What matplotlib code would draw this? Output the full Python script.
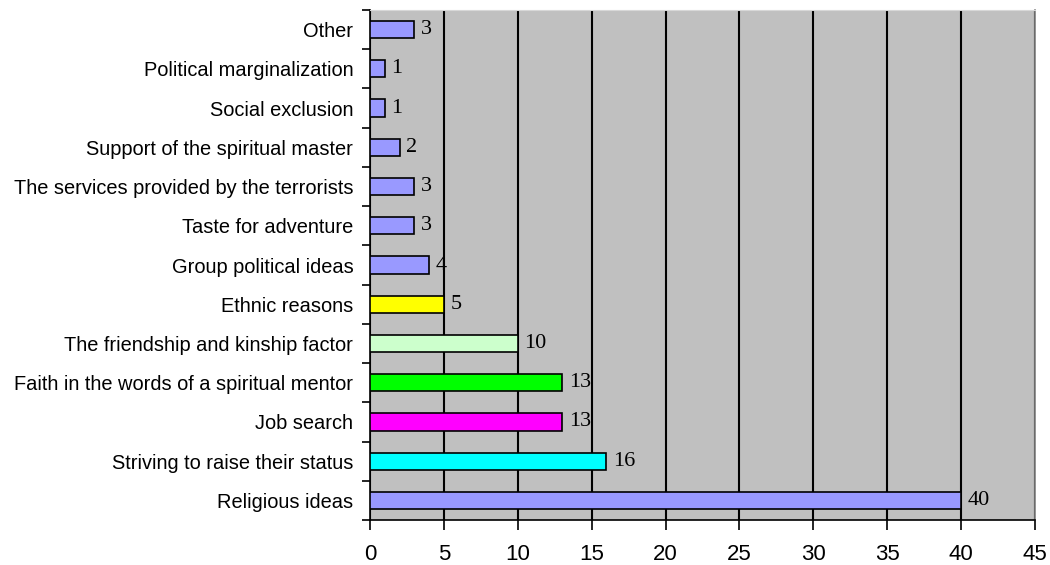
import matplotlib.pyplot as plt
import numpy as np

categories = ['Religious ideas', 'Striving to raise their status', 'Job search',
              'Faith in the words of a spiritual mentor', 'The friendship and kinship factor',
              'Ethnic reasons', 'Group political ideas', 'Taste for adventure',
              'The services provided by the terrorists', 'Support of the spiritual master',
              'Social exclusion', 'Political marginalization', 'Other']
values = [40, 16, 13, 13, 10, 5, 4, 3, 3, 2, 1, 1, 3]
colors = ['#9999FF', '#00FFFF', '#FF00FF', '#00FF00', '#CCFFCC', '#FFFF00',
          '#9999FF', '#9999FF', '#9999FF', '#9999FF', '#9999FF', '#9999FF', '#9999FF']
xticks = [0, 5, 10, 15, 20, 25, 30, 35, 40, 45]

plt.rcParams['font.family'] = ['Liberation Sans', 'DejaVu Sans']

fig = plt.figure(figsize=(10.5, 5.65), dpi=100)
ax = fig.add_axes([0.3524, 0.0796, 0.6333, 0.9027])
ax.set_facecolor('#C0C0C0')

y = np.arange(len(categories))
ax.barh(y, values, height=0.44, color=colors, edgecolor='black', linewidth=1.2, zorder=3)

# value labels (serif, like the original)
for yi, v in zip(y, values):
    ax.text(v + 0.45, yi, str(v), va='center', ha='left', fontsize=16,
            family=['Liberation Serif', 'DejaVu Serif'], zorder=4)

ax.set_xlim(0, 45)
ax.set_ylim(-0.5, len(categories) - 0.5)
ax.set_xticks(xticks)
ax.set_xticklabels([str(t) for t in xticks], fontsize=16)
ax.set_yticks(y)
ax.set_yticklabels(categories, fontsize=14.4)
ax.set_yticks(np.arange(-0.5, len(categories), 1), minor=True)
ax.tick_params(axis='y', which='major', length=0, pad=12)
ax.tick_params(axis='y', which='minor', length=6, width=1.2, direction='out')
ax.tick_params(axis='x', length=7, width=1.2, direction='out', pad=10)

ax.grid(axis='x', color='black', linewidth=1.5, zorder=1)
ax.set_axisbelow(True)

ax.spines['left'].set_linewidth(1.2)
ax.spines['bottom'].set_linewidth(1.2)
ax.spines['top'].set_color('#D8D8D8')
ax.spines['right'].set_color('#808080')
ax.spines['right'].set_linewidth(1.2)

fig.savefig('out.png', dpi=100)
